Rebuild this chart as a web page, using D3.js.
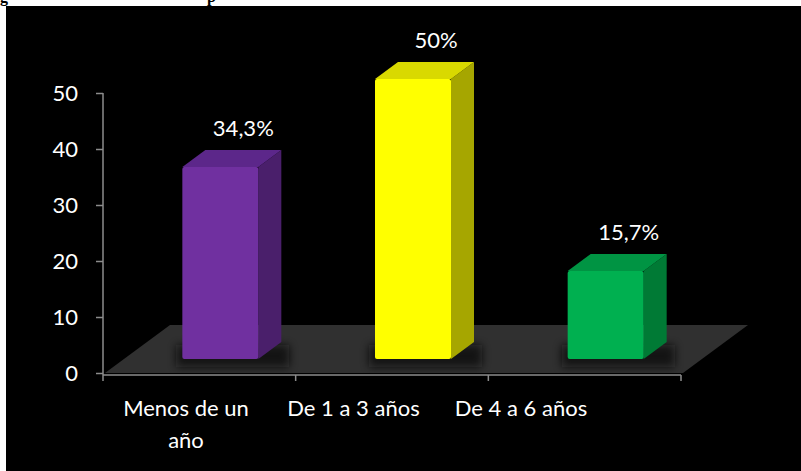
<!DOCTYPE html>
<html>
<head>
<meta charset="utf-8">
<script src="https://cdn.jsdelivr.net/npm/d3@7/dist/d3.min.js"></script>
<style>
  html, body { margin: 0; padding: 0; background: #fff; }
  svg { display: block; }
</style>
</head>
<body>
<svg id="chart" width="801" height="471"></svg>
<script>
// Data
const categories = ["Menos de un año", "De 1 a 3 años", "De 4 a 6 años"];
const categoryLines = [["Menos de un", "año"], ["De 1 a 3 años"], ["De 4 a 6 años"]];
const values = [34.3, 50, 15.7];
const valueLabels = ["34,3%", "50%", "15,7%"];
const yTicks = [0, 10, 20, 30, 40, 50];
const faceColors = [
  { front: "#7030A0", side: "#4A1F6B", top: "#5C278A" },
  { front: "#FFFF00", side: "#A6A600", top: "#D9D900" },
  { front: "#00B050", side: "#007A35", top: "#009443" }
];

const svg = d3.select("#chart");
const font = "Lato, 'Open Sans', sans-serif";
const fs = 22;

// Caption line above the black panel (mostly hidden by it)
svg.append("text").attr("x", 0).attr("y", 2)
  .attr("font-family", "'Liberation Serif', serif").attr("font-weight", "bold")
  .attr("font-size", 16).attr("fill", "#000").text("g");
svg.append("text").attr("x", 207).attr("y", 2)
  .attr("font-family", "'Liberation Serif', serif").attr("font-weight", "bold")
  .attr("font-size", 16).attr("fill", "#000").text("p");

// Black panel
svg.append("rect").attr("x", 6).attr("y", 6).attr("width", 795).attr("height", 465).attr("fill", "#000");

const defs = svg.append("defs");
defs.append("filter").attr("id", "soft").attr("x", "-50%").attr("y", "-50%").attr("width", "200%").attr("height", "200%")
  .append("feGaussianBlur").attr("stdDeviation", 4);

// Scales
const x = d3.scaleBand().domain(categories).range([103, 681]).padding(0);
const y = d3.scaleLinear().domain([0, 50]).range([373, 93]);
const xLabel = d3.scalePoint().domain(categories).range([186, 521]);

const depth = { dx: 65, dy: -48 };       // floor depth
const barDepth = { dx: 23, dy: -17 };    // bar depth
const frontDrop = 14;                    // front face baseline below y(0)
const barW = 76;
const barShift = 21;                     // perspective shift of bar centre

// Floor
const fy = y(0);
const fx0 = x.range()[0] + 2, fx1 = x.range()[1] + 2;
svg.append("polygon")
  .attr("points", [[fx0, fy], [fx1, fy], [fx1 + depth.dx, fy + depth.dy], [fx0 + depth.dx, fy + depth.dy]].map(p => p.join(",")).join(" "))
  .attr("fill", "#303030");

// Bars
const bars = svg.append("g");
categories.forEach((c, i) => {
  const cx = x(c) + x.bandwidth() / 2 + barShift;
  const x0 = cx - barW / 2, x1 = cx + barW / 2;
  const yb = y(0) - frontDrop;
  const yt = y(values[i]) - frontDrop;
  const col = faceColors[i];
  // shadow on floor
  bars.append("rect").attr("x", x0 - 6).attr("y", yb - 14).attr("width", barW + barDepth.dx + 14).attr("height", 22)
    .attr("fill", "#111").attr("opacity", 0.8).attr("filter", "url(#soft)");
  // side face
  bars.append("polygon")
    .attr("points", [[x1, yb], [x1 + barDepth.dx, yb + barDepth.dy], [x1 + barDepth.dx, yt + barDepth.dy], [x1, yt]].map(p => p.join(",")).join(" "))
    .attr("fill", col.side);
  // top face
  bars.append("polygon")
    .attr("points", [[x0, yt], [x1, yt], [x1 + barDepth.dx, yt + barDepth.dy], [x0 + barDepth.dx, yt + barDepth.dy]].map(p => p.join(",")).join(" "))
    .attr("fill", col.top);
  // front face
  bars.append("rect").attr("x", x0).attr("y", yt).attr("width", barW).attr("height", yb - yt)
    .attr("rx", 2).attr("fill", col.front);
  // value label
  bars.append("text").attr("x", cx + 23).attr("y", yt - 31)
    .attr("text-anchor", "middle").attr("font-family", font).attr("font-size", fs)
    .attr("fill", "#fff").text(valueLabels[i]);
});

// Y axis
const yAxis = svg.append("g").attr("transform", "translate(103,0)")
  .call(d3.axisLeft(y).tickValues(yTicks).tickSize(7).tickPadding(18).tickFormat(d3.format("d")));
yAxis.select(".domain").attr("stroke", "#8c8c8c").attr("stroke-width", 1.5)
  .attr("d", `M0,${y(50)}V${y(0) + 8}`);
yAxis.selectAll(".tick line").attr("stroke", "#8c8c8c").attr("stroke-width", 1.5);
yAxis.selectAll(".tick text").attr("fill", "#fff").attr("font-family", font).attr("font-size", fs).attr("dy", "0.35em");

// X axis: ticks on band boundaries
const xa = svg.append("g");
const xAxisY = y(0) + 2;
xa.append("line").attr("x1", x.range()[0]).attr("x2", x.range()[1]).attr("y1", xAxisY).attr("y2", xAxisY)
  .attr("stroke", "#8c8c8c").attr("stroke-width", 1.5);
categories.forEach(c => {
  const bx = x(c) + x.bandwidth();
  xa.append("line").attr("x1", bx).attr("x2", bx).attr("y1", xAxisY).attr("y2", xAxisY + 6)
    .attr("stroke", "#8c8c8c").attr("stroke-width", 1.5);
});

// Category labels
categories.forEach((c, i) => {
  const t = svg.append("text").attr("x", xLabel(c)).attr("y", 416)
    .attr("text-anchor", "middle").attr("font-family", font).attr("font-size", fs).attr("fill", "#fff");
  categoryLines[i].forEach((line, j) => {
    t.append("tspan").attr("x", xLabel(c)).attr("dy", j === 0 ? 0 : 32).text(line);
  });
});
</script>
</body>
</html>
